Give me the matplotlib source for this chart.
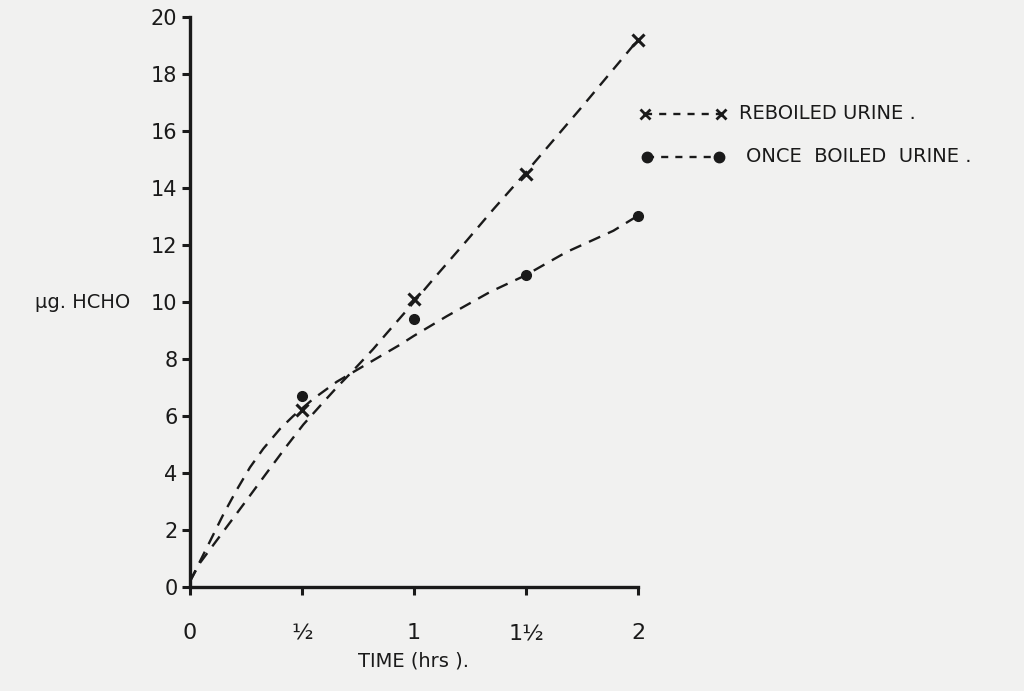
import numpy as np
import matplotlib.pyplot as plt

# measured points
time_pts = [0.5, 1.0, 1.5, 2.0]
reboiled = [6.2, 10.1, 14.5, 19.2]
once_boiled = [6.7, 9.4, 10.95, 13.0]

# hand drawn curves
reb_curve_x = [0.0, 0.045, 0.149, 0.253, 0.342, 0.432, 0.506, 0.58, 0.655, 0.729, 0.818, 0.878, 1.0, 1.086, 1.235, 1.354, 1.5, 1.75, 2.0]
reb_curve_y = [0.2, 0.85, 1.95, 3.05, 4.0, 4.95, 5.7, 6.35, 7.0, 7.6, 8.35, 8.9, 10.0, 10.8, 12.15, 13.25, 14.55, 16.85, 19.2]
once_curve_x = [0.0, 0.089, 0.149, 0.208, 0.268, 0.327, 0.402, 0.461, 0.55, 0.655, 0.774, 0.9375, 0.997, 1.146, 1.339, 1.496, 1.68, 1.89, 2.0]
once_curve_y = [0.2, 1.6, 2.55, 3.4, 4.2, 4.85, 5.55, 6.0, 6.6, 7.2, 7.75, 8.5, 8.8, 9.5, 10.35, 10.93, 11.75, 12.5, 13.03]

x_ticks = [0, 0.5, 1, 1.5, 2]
x_ticklabels = ['0', '½', '1', '1½', '2']
y_ticks = [0, 2, 4, 6, 8, 10, 12, 14, 16, 18, 20]

bg = '#f1f1f0'
ink = '#1a1a1a'

fig = plt.figure(figsize=(10.24, 6.91), dpi=100, facecolor=bg)
ax = fig.add_axes([190 / 1024, 104 / 691, 834 / 1024, 584 / 691])
ax.set_facecolor(bg)
ax.set_xlim(0, 834 / 224)
ax.set_ylim(0, 584 / 28.5)

for s in ['top', 'right']:
    ax.spines[s].set_visible(False)
ax.spines['left'].set_bounds(0, 20)
ax.spines['bottom'].set_bounds(0, 2)
for s in ['left', 'bottom']:
    ax.spines[s].set_linewidth(2.4)
    ax.spines[s].set_color(ink)

ax.set_xticks(x_ticks)
ax.set_xticklabels(x_ticklabels)
ax.set_yticks(y_ticks)
ax.set_yticklabels([str(v) for v in y_ticks])
ax.tick_params(axis='x', direction='out', length=6, width=2.2, color=ink, pad=20, labelsize=16, labelcolor=ink)
ax.tick_params(axis='y', direction='out', length=6, width=2.2, color=ink, pad=3, labelsize=15, labelcolor=ink)

ls = (0, (5.2, 3.6))
ax.plot(reb_curve_x, reb_curve_y, color=ink, lw=1.7, linestyle=ls, clip_on=False)
ax.plot(once_curve_x, once_curve_y, color=ink, lw=1.7, linestyle=ls, clip_on=False)
ax.plot(time_pts, reboiled, linestyle='none', marker='x', ms=8, mew=2.2, color=ink, clip_on=False)
ax.plot(time_pts, once_boiled, linestyle='none', marker='o', ms=7, color=ink, clip_on=False)

# legend drawn by hand like the original
ax.plot([2.03, 2.37], [16.6, 16.6], color=ink, lw=1.7, linestyle=(0, (3, 3)))
ax.plot([2.03, 2.37], [16.6, 16.6], linestyle='none', marker='x', ms=7, mew=2, color=ink)
ax.text(2.45, 16.6, 'REBOILED URINE .', fontsize=14, color=ink, va='center', ha='left')
ax.plot([2.04, 2.36], [15.1, 15.1], color=ink, lw=1.7, linestyle=(0, (3, 3)))
ax.plot([2.04, 2.36], [15.1, 15.1], linestyle='none', marker='o', ms=7.5, color=ink)
ax.text(2.48, 15.1, 'ONCE  BOILED  URINE .', fontsize=14, color=ink, va='center', ha='left')

ax.set_xlabel('TIME (hrs ).', fontsize=14, color=ink, labelpad=6)
ax.xaxis.set_label_coords(1.0 / (834 / 224), -0.11)
fig.text(35 / 1024, 1 - 302 / 691, 'μg. HCHO', fontsize=14, color=ink, va='center', ha='left')

plt.savefig('out.png', dpi=100, facecolor=bg)
